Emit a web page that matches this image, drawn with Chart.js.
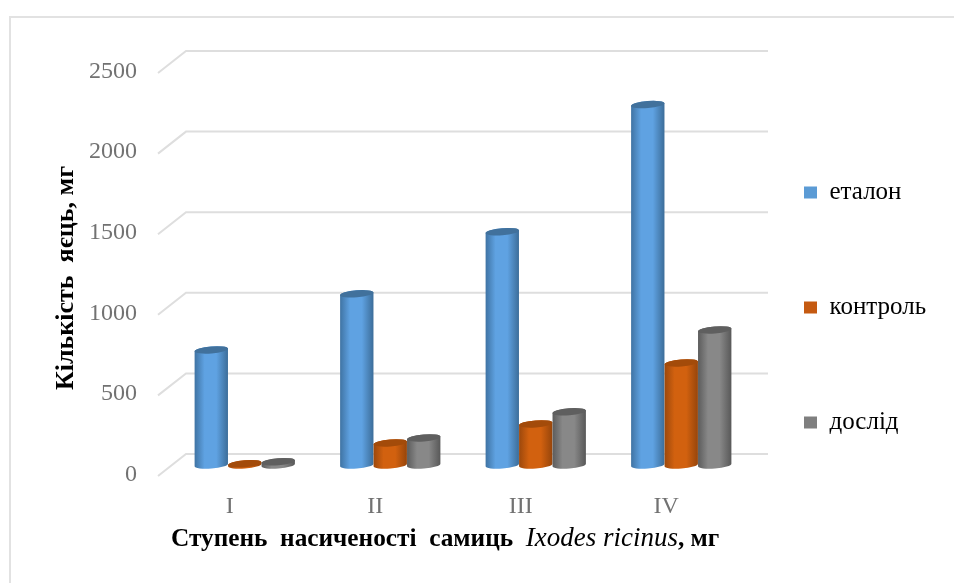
<!DOCTYPE html>
<html>
<head>
<meta charset="utf-8">
<style>
html,body{margin:0;padding:0;background:#fff;overflow:hidden}
#wrap{position:relative;width:954px;height:583px}
#frame{position:absolute;left:9px;top:16px;right:0;bottom:0;border-left:2px solid #e2e2e2;border-top:2px solid #e2e2e2}
canvas{position:absolute;left:0;top:0;filter:blur(0.5px)}
</style>
<script src="https://cdn.jsdelivr.net/npm/chart.js@4/dist/chart.umd.min.js"></script>
</head>
<body>
<div id="wrap">
<div id="frame"></div>
<canvas id="chart" width="954" height="583"></canvas>
</div>
<script>
let categories = ["I","II","III","IV"];
let etalon = [714,1062,1447,2236];
let kontrol = [8,137,255,633];
let doslid = [20,168,330,838];
let seriesNames = ["еталон","контроль","дослід"];
let seriesColors = ["#5B9BD5","#C55A11","#7F7F7F"];
let yTicks = [0,500,1000,1500,2000,2500];
let yTitle = "Кількість  яєць, мг";
let xTitleParts = [["bold 25.3px","Ступень  насиченості  самиць  "],["italic 27px","Ixodes ricinus"],["bold 25.3px",", мг"]];

let serif = "'Liberation Serif'";
// edge, middle, edge and cap shades of each cylinder
let shades = [
    ["#3F73A3","#5FA2E2","#3C6D99","#41719C"],
    ["#9C480C","#D2610F","#96450B","#A34B0A"],
    ["#5C5C5C","#888888","#585858","#5F5F5F"]
];

function cylinder(ctx,bar,shade){
    let w = bar.width/2;
    let ry = 3.5;
    let tilt = -0.08;
    let g = ctx.createLinearGradient(bar.x-w,0,bar.x+w,0);
    g.addColorStop(0,shade[0]);
    g.addColorStop(0.3,shade[1]);
    g.addColorStop(0.65,shade[1]);
    g.addColorStop(1,shade[2]);
    ctx.beginPath();
    ctx.ellipse(bar.x,bar.base,w,ry,tilt,0,Math.PI);
    ctx.ellipse(bar.x,bar.y,w,ry,tilt,Math.PI,Math.PI*2);
    ctx.closePath();
    ctx.fillStyle = g;
    ctx.fill();
    ctx.beginPath();
    ctx.ellipse(bar.x,bar.y,w,ry,tilt,0,Math.PI*2);
    ctx.fillStyle = shade[3];
    ctx.fill();
}

let walls = {
    id:"walls",
    afterLayout(chart){
        // the legend sits beside the plot with wide gaps, so it is placed by hand
        let l = chart.legend;
        let pad = l.options.labels.padding;
        l.left = 804-pad;
        l.right = 954;
        l.top = 180-pad;
        l.bottom = 583;
    },
    beforeDatasetsDraw(chart){
        let ctx = chart.ctx;
        let area = chart.chartArea;
        let y = chart.scales.y;
        ctx.save();
        ctx.strokeStyle = "#DEDEDE";
        ctx.lineWidth = 2;
        for(let i=0;i<yTicks.length;i++){
            let p = y.getPixelForValue(yTicks[i]);
            ctx.beginPath();
            ctx.moveTo(area.left-14,p+11);
            ctx.lineTo(area.left+14,p-11);
            ctx.lineTo(area.right+14,p-11);
            ctx.stroke();
        }
        for(let i=0;i<categories.length;i++){
            for(let d=0;d<3;d++){
                cylinder(ctx,chart.getDatasetMeta(d).data[i],shades[d]);
            }
        }
        ctx.restore();
    },
    beforeDatasetDraw(){
        return false;
    },
    afterDraw(chart){
        let ctx = chart.ctx;
        ctx.save();
        ctx.fillStyle = "#000";
        ctx.textBaseline = "middle";
        ctx.textAlign = "left";
        let x = 171;
        for(let i=0;i<xTitleParts.length;i++){
            ctx.font = xTitleParts[i][0]+" "+serif;
            ctx.fillText(xTitleParts[i][1],x,539);
            x += ctx.measureText(xTitleParts[i][1]).width;
        }
        ctx.translate(66,278);
        ctx.rotate(-Math.PI/2);
        ctx.textAlign = "center";
        ctx.font = "bold 26px "+serif;
        ctx.fillText(yTitle,0,0);
        ctx.restore();
    }
};

new Chart(document.getElementById("chart"),{
    type:"bar",
    data:{
        labels:categories,
        datasets:[
            {label:seriesNames[0],data:etalon,backgroundColor:seriesColors[0],yAxisID:"y"},
            {label:seriesNames[1],data:kontrol,backgroundColor:seriesColors[1],yAxisID:"y"},
            {label:seriesNames[2],data:doslid,backgroundColor:seriesColors[2],yAxisID:"y"}
        ]
    },
    plugins:[walls],
    options:{
        responsive:false,
        animation:false,
        layout:{padding:{left:10,top:62,right:200,bottom:0}},
        datasets:{bar:{categoryPercentage:0.69,barPercentage:1}},
        plugins:{
            title:{display:false},
            tooltip:{enabled:false},
            legend:{
                position:"chartArea",
                align:"start",
                labels:{
                    boxWidth:13,
                    boxHeight:12,
                    padding:90,
                    color:"#000",
                    font:{family:serif,size:25}
                }
            }
        },
        scales:{
            x:{
                grid:{display:false},
                border:{display:false},
                afterFit(scale){scale.height = 118},
                ticks:{
                    padding:19,
                    labelOffset:-15,
                    color:"#727272",
                    font:{family:serif,size:24}
                }
            },
            y:{
                display:false,
                min:0,
                max:2500
            },
            // same range moved down a little: the labels belong to the front edge of the floor
            yFront:{
                position:"left",
                min:59,
                max:2559,
                grid:{display:false},
                border:{display:false},
                afterFit(scale){scale.width = 162},
                afterBuildTicks(scale){
                    scale.ticks = yTicks.map(v=>({value:v}));
                },
                ticks:{
                    padding:27,
                    color:"#727272",
                    font:{family:serif,size:24},
                    callback:v=>String(v)
                }
            }
        }
    }
});
</script>
</body>
</html>
